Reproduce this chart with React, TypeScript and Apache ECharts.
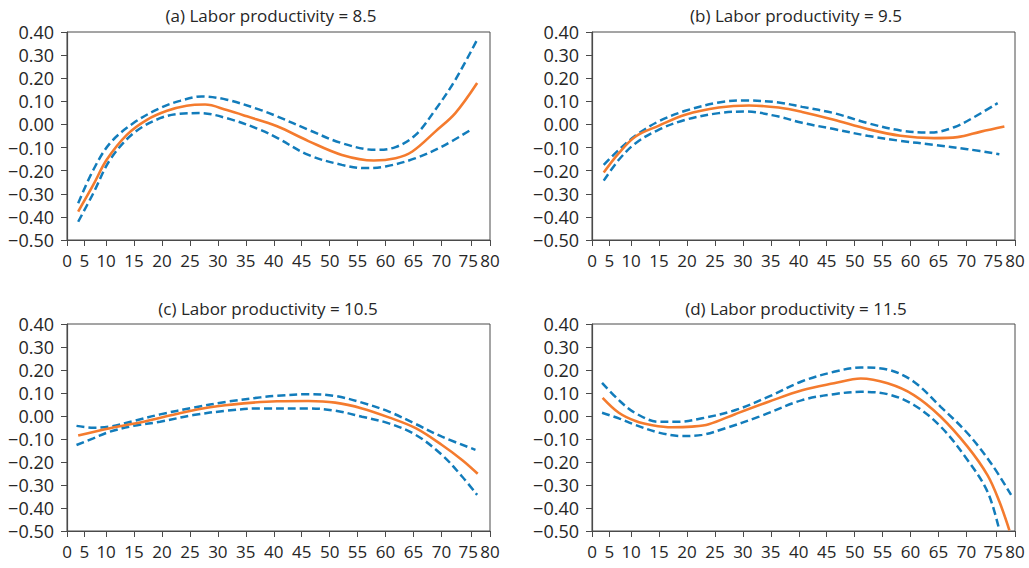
import React, { useEffect, useRef } from "react";
import * as echarts from "echarts";

// Age axis: tick positions (in data units) and the labels printed at them
const AGE_TICKS = [3, 6.1, 10, 15, 20, 25, 30, 35, 40, 45, 50, 55, 60, 65, 70, 75.3, 78.7];
const AGE_TICK_LABELS = ["0", "5", "10", "15", "20", "25", "30", "35", "40", "45", "50", "55", "60", "65", "70", "75", "80"];
const AGE_MIN = 3;
const AGE_MAX = 78.7;
// "75" sits tight against "80"; it is printed on its own overlay axis, nudged left a little
const AGE_CROWDED_TICK = 75.3;
const AGE_CROWDED_LABEL_AT = 74.8;
const AGE_CROWDED_LABEL = "75";

const PANEL_TITLES = [
  "(a) Labor productivity = 8.5",
  "(b) Labor productivity = 9.5",
  "(c) Labor productivity = 10.5",
  "(d) Labor productivity = 11.5",
];

// (a) Labor productivity = 8.5
const effectA: [number, number][] = [
  [5.0, -0.377], [7.7, -0.262], [10.1, -0.153], [13.7, -0.045], [17.3, 0.02], [20.9, 0.059],
  [24.4, 0.081], [27.7, 0.086], [31.6, 0.062], [35.2, 0.035], [40.6, -0.008], [46.2, -0.072],
  [52.2, -0.132], [57.9, -0.156], [61.8, -0.146], [64.8, -0.117], [68.9, -0.031], [72.5, 0.049],
  [76.4, 0.179],
];
const upperA: [number, number][] = [
  [5.0, -0.341], [7.7, -0.197], [10.7, -0.081], [14.9, 0.006], [19.65, 0.071], [23.2, 0.102],
  [27.1, 0.121], [31.6, 0.107], [37.6, 0.063], [40.5, 0.036], [46.2, -0.023], [52.2, -0.081],
  [58.2, -0.11], [61.8, -0.098], [65.4, -0.045], [68.9, 0.063], [72.5, 0.193], [76.4, 0.367],
];
const lowerA: [number, number][] = [
  [5.0, -0.421], [7.7, -0.298], [10.7, -0.153], [14.9, -0.038], [19.65, 0.027], [23.2, 0.046],
  [26.8, 0.049], [31.6, 0.027], [37.6, -0.023], [40.6, -0.058], [46.2, -0.132], [52.2, -0.175],
  [56.4, -0.189], [60.0, -0.182], [65.4, -0.146], [70.1, -0.096], [75.5, -0.02],
];

// (b) Labor productivity = 9.5
const effectB: [number, number][] = [
  [5.1, -0.208], [7.8, -0.124], [10.8, -0.052], [14.9, -0.006], [19.7, 0.042], [25.7, 0.073],
  [31.1, 0.082], [36.4, 0.073], [40.6, 0.054], [46.3, 0.02], [52.3, -0.02], [58.2, -0.049],
  [64.2, -0.059], [68.4, -0.055], [72.6, -0.031], [76.8, -0.009],
];
const upperB: [number, number][] = [
  [5.1, -0.175], [7.8, -0.11], [10.8, -0.048], [14.9, 0.013], [19.7, 0.059], [25.7, 0.095],
  [30.5, 0.104], [36.4, 0.095], [40.6, 0.076], [46.3, 0.049], [52.3, 0.006], [58.2, -0.026],
  [63.6, -0.035], [67.8, -0.012], [71.4, 0.032], [75.6, 0.092],
];
const lowerB: [number, number][] = [
  [5.1, -0.243], [7.8, -0.153], [10.8, -0.081], [14.9, -0.023], [19.7, 0.02], [25.7, 0.049],
  [30.5, 0.056], [36.4, 0.034], [40.6, 0.007], [46.3, -0.02], [52.3, -0.049], [58.2, -0.071],
  [64.2, -0.088], [70.2, -0.107], [75.9, -0.129],
];

// (c) Labor productivity = 10.5
const effectC: [number, number][] = [
  [5.0, -0.085], [10.7, -0.053], [16.7, -0.025], [22.6, 0.009], [28.6, 0.038], [34.6, 0.055],
  [40.6, 0.064], [46.2, 0.065], [51.0, 0.058], [55.8, 0.033], [60.6, -0.006], [65.4, -0.053],
  [70.1, -0.126], [73.7, -0.191], [76.5, -0.251],
];
const upperC: [number, number][] = [
  [4.7, -0.043], [7.7, -0.051], [10.7, -0.046], [14.9, -0.022], [19.65, 0.007], [25.6, 0.036],
  [31.6, 0.062], [37.6, 0.081], [40.6, 0.088], [46.2, 0.095], [51.0, 0.087], [55.8, 0.058],
  [60.6, 0.019], [65.4, -0.035], [70.1, -0.09], [76.1, -0.147],
];
const lowerC: [number, number][] = [
  [4.7, -0.126], [7.7, -0.097], [10.7, -0.068], [14.9, -0.043], [19.65, -0.025], [25.6, 0.004],
  [31.6, 0.023], [37.6, 0.033], [46.2, 0.033], [51.0, 0.023], [55.8, -0.003], [60.6, -0.032],
  [65.4, -0.082], [70.1, -0.169], [73.7, -0.263], [76.4, -0.343],
];

// (d) Labor productivity = 11.5
const effectD: [number, number][] = [
  [4.9, 0.079], [7.8, 0.014], [10.8, -0.022], [13.8, -0.04], [17.3, -0.049], [20.9, -0.046],
  [23.9, -0.036], [28.7, 0.009], [34.6, 0.062], [40.6, 0.112], [46.3, 0.142], [51.1, 0.163],
  [55.9, 0.142], [60.6, 0.091], [65.4, -0.003], [70.2, -0.133], [73.8, -0.258], [75.9, -0.372],
  [77.7, -0.497],
];
const upperD: [number, number][] = [
  [4.8, 0.144], [7.8, 0.069], [10.8, 0.012], [14.9, -0.025], [18.5, -0.025], [22.7, -0.01],
  [28.7, 0.026], [34.6, 0.084], [40.6, 0.151], [46.3, 0.192], [51.1, 0.211], [55.9, 0.202],
  [60.6, 0.149], [65.4, 0.04], [70.2, -0.075], [74.4, -0.205], [78.0, -0.343],
];
const lowerD: [number, number][] = [
  [4.8, 0.014], [7.8, -0.01], [10.8, -0.039], [14.9, -0.072], [19.1, -0.087], [22.7, -0.082],
  [26.9, -0.053], [32.9, -0.003], [40.6, 0.069], [46.3, 0.095], [51.1, 0.105], [55.9, 0.095],
  [60.6, 0.048], [65.4, -0.046], [70.2, -0.191], [73.8, -0.33], [75.9, -0.497],
];

const PANELS = [
  { effect: effectA, upper: upperA, lower: lowerA },
  { effect: effectB, upper: upperB, lower: lowerB },
  { effect: effectC, upper: upperC, lower: lowerC },
  { effect: effectD, upper: upperD, lower: lowerD },
];

const FONT = '"Open Sans", "Noto Sans", sans-serif';
const TEXT_COLOR = "#262626";
const AXIS_COLOR = "#4a4a4a";
const ORANGE = "#f47b2e";
const BLUE = "#127cbb";

// plot-area boxes for the 2x2 layout
const GRIDS = [
  { left: 67, top: 32, width: 423, height: 208 },
  { left: 592, top: 32, width: 423, height: 208 },
  { left: 67, top: 324, width: 423, height: 207 },
  { left: 592, top: 324, width: 423, height: 207 },
];
const TITLE_POS = [
  { x: 271, y: 15 },
  { x: 796, y: 15 },
  { x: 268, y: 308 },
  { x: 796, y: 308 },
];

function formatRate(v: number): string {
  if (Math.abs(v) < 1e-9) return "0.00";
  const s = v.toFixed(2);
  return s.startsWith("-") ? "\u2212" + s.slice(1) : s;
}

function formatAge(v: number): string {
  const i = AGE_TICKS.findIndex((t) => Math.abs(t - v) < 1e-6);
  return i >= 0 ? AGE_TICK_LABELS[i] : "";
}

const ageLabelStyle = {
  color: TEXT_COLOR,
  fontFamily: FONT,
  fontSize: 17,
  margin: 12,
  showMinLabel: true,
  showMaxLabel: true,
  hideOverlap: false,
};

export default function App() {
  const ref = useRef<HTMLDivElement>(null);

  useEffect(() => {
    if (!ref.current) return;
    const chart = echarts.init(ref.current, undefined, { renderer: "svg" });

    const grid = GRIDS.map((g) => ({
      ...g,
      show: true,
      borderColor: AXIS_COLOR,
      borderWidth: 1,
      backgroundColor: "transparent",
    }));

    const mainX = GRIDS.map((_, i) => ({
      type: "value",
      gridIndex: i,
      min: AGE_MIN,
      max: AGE_MAX,
      position: "bottom",
      splitLine: { show: false },
      axisLine: { show: true, onZero: false, lineStyle: { color: AXIS_COLOR, width: 1.2 } },
      axisTick: {
        show: true,
        inside: false,
        length: 6,
        customValues: AGE_TICKS,
        lineStyle: { color: AXIS_COLOR, width: 1 },
      },
      axisLabel: {
        ...ageLabelStyle,
        formatter: formatAge,
        customValues: AGE_TICKS.filter((t) => t !== AGE_CROWDED_TICK),
      },
    }));

    const overlayX = GRIDS.map((_, i) => ({
      type: "value",
      gridIndex: i,
      min: AGE_MIN,
      max: AGE_MAX,
      position: "bottom",
      splitLine: { show: false },
      axisLine: { show: false, onZero: false },
      axisTick: { show: false },
      axisLabel: {
        ...ageLabelStyle,
        formatter: () => AGE_CROWDED_LABEL,
        customValues: [AGE_CROWDED_LABEL_AT],
      },
    }));

    const yAxis = GRIDS.map((_, i) => ({
      type: "value",
      gridIndex: i,
      min: -0.5,
      max: 0.4,
      interval: 0.1,
      position: "left",
      splitLine: { show: false },
      axisLine: { show: true, lineStyle: { color: AXIS_COLOR, width: 1.2 } },
      axisTick: { show: true, inside: false, length: 6, lineStyle: { color: AXIS_COLOR, width: 1 } },
      axisLabel: {
        formatter: formatRate,
        color: TEXT_COLOR,
        fontFamily: FONT,
        fontSize: 18,
        margin: 13,
        showMinLabel: true,
        showMaxLabel: true,
      },
    }));

    const series: any[] = [];
    PANELS.forEach((p, i) => {
      const dashed = (name: string, data: [number, number][]) => ({
        name,
        type: "line",
        xAxisIndex: i,
        yAxisIndex: i,
        data,
        smooth: 0.35,
        showSymbol: false,
        symbol: "none",
        lineStyle: { color: BLUE, width: 2.5, type: [8, 4] },
        z: 2,
      });
      series.push(dashed("Upper bound", p.upper));
      series.push(dashed("Lower bound", p.lower));
      series.push({
        name: "Marginal effect",
        type: "line",
        xAxisIndex: i,
        yAxisIndex: i,
        data: p.effect,
        smooth: 0.35,
        showSymbol: false,
        symbol: "none",
        lineStyle: { color: ORANGE, width: 2.6 },
        z: 3,
      });
    });

    const graphic = PANEL_TITLES.map((text, i) => ({
      type: "text",
      x: TITLE_POS[i].x,
      y: TITLE_POS[i].y,
      style: {
        text,
        fill: TEXT_COLOR,
        font: `17px ${FONT}`,
        textAlign: "center",
        textVerticalAlign: "middle",
      },
    }));

    chart.setOption({
      animation: false,
      backgroundColor: "#ffffff",
      grid,
      xAxis: [...mainX, ...overlayX],
      yAxis,
      series,
      graphic,
    });

    return () => chart.dispose();
  }, []);

  return (
    <div
      ref={ref}
      style={{ position: "fixed", left: 0, top: 0, width: 1029, height: 568, background: "#fff" }}
    />
  );
}
